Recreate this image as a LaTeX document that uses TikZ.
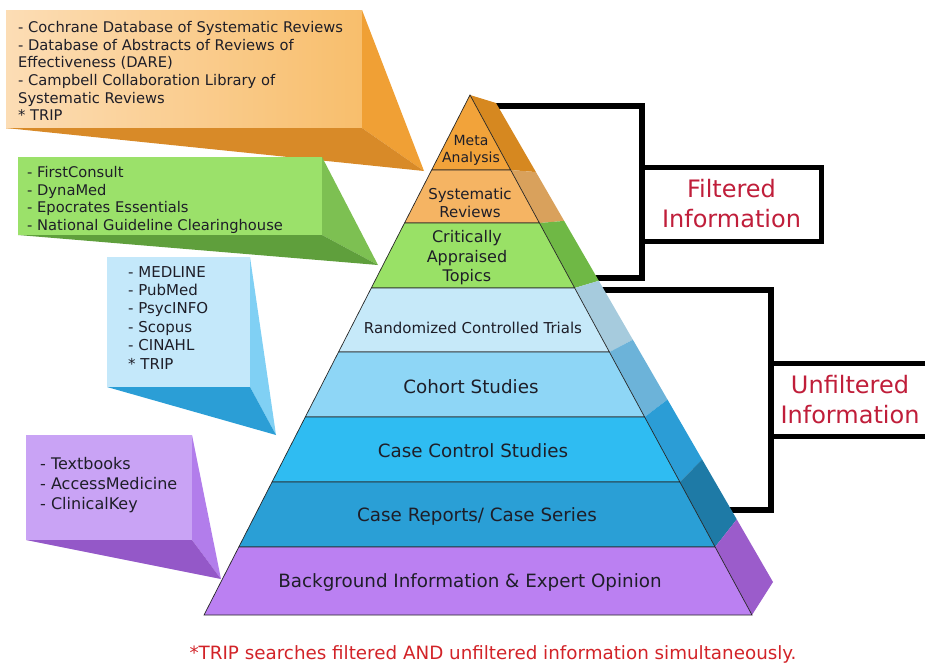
\documentclass[tikz,border=0pt]{standalone}
\usepackage{fontspec}
\setmainfont{DejaVu Sans}
\usepackage{tikz}
\usetikzlibrary{calc}
\usepackage{xcolor}
\definecolor{metaF}{RGB}{242,163,58}
\definecolor{metaS}{RGB}{214,136,32}
\definecolor{sysF}{RGB}{245,180,99}
\definecolor{sysS}{RGB}{217,161,92}
\definecolor{critF}{RGB}{153,225,102}
\definecolor{critS}{RGB}{111,184,69}
\definecolor{rctF}{RGB}{198,233,249}
\definecolor{rctS}{RGB}{166,203,221}
\definecolor{cohF}{RGB}{142,214,246}
\definecolor{cohS}{RGB}{108,179,217}
\definecolor{ccF}{RGB}{47,188,242}
\definecolor{ccS}{RGB}{43,157,214}
\definecolor{crF}{RGB}{42,159,214}
\definecolor{crS}{RGB}{30,122,166}
\definecolor{bgF}{RGB}{187,128,242}
\definecolor{bgS}{RGB}{155,92,203}
\definecolor{orangeL}{RGB}{252,221,181}
\definecolor{orangeR}{RGB}{248,190,108}
\definecolor{orangeSide}{RGB}{240,160,53}
\definecolor{orangeBot}{RGB}{216,138,40}
\definecolor{greenF}{RGB}{155,225,106}
\definecolor{greenSide}{RGB}{125,192,82}
\definecolor{greenBot}{RGB}{95,159,60}
\definecolor{blueF}{RGB}{196,232,250}
\definecolor{blueSide}{RGB}{128,208,244}
\definecolor{blueBot}{RGB}{43,158,214}
\definecolor{purpleF}{RGB}{201,163,245}
\definecolor{purpleSide}{RGB}{178,125,235}
\definecolor{purpleBot}{RGB}{148,88,200}
\definecolor{crimson}{RGB}{192,30,58}
\definecolor{footred}{RGB}{210,35,40}
\definecolor{ink}{RGB}{30,30,40}

\begin{document}
\begin{tikzpicture}[x=1pt,y=-1pt]
\tikzstyle{listbox} = [rectangle, inner sep=0, outer sep=0, anchor=north west];
\tikzstyle{listtext} = [inner sep=0, anchor=north west, align=left, text=ink];
\tikzstyle{lbl} = [inner sep=0, align=center, text=ink];
\tikzstyle{edge} = [draw=black!85, line width=0.7pt];
\tikzstyle{bracket} = [draw=black, line width=6pt];
\tikzstyle{infobox} = [draw=black, line width=5pt, fill=white, inner sep=0,
            outer sep=0, align=center, text=crimson,
            font=\fontsize{24}{30}\selectfont];

    \clip (0,0) rectangle (925,664);

    % brackets
    \coordinate (ftop) at (494,106);
    \coordinate (fbot) at (594,278);
    \coordinate (utop) at (600,290);
    \coordinate (ubot) at (728,510);
    \node (filt) at (731.5,204) [infobox, minimum width=179pt, minimum height=74pt]
        {Filtered\\Information};
    \node (unfilt) at (850,399.5) [infobox, minimum width=158pt, minimum height=73pt]
        {Unfiltered\\Information};
    \draw[bracket] (ftop) -| (filt.west) |- (fbot);
    \draw[bracket] (utop) -| (unfilt.west) |- (ubot);

    % pyramid
    \foreach \ya/\yb/\lay in {95/170/meta, 170/223/sys, 223/288/crit, 288/352/rct,
                              352/417/coh, 417/482/cc, 482/547/cr, 547/615/bg} {
        \pgfmathsetmacro{\xla}{470-0.5115*(\ya-95)}
        \pgfmathsetmacro{\xra}{470+0.5423*(\ya-95)}
        \pgfmathsetmacro{\xlb}{470-0.5115*(\yb-95)}
        \pgfmathsetmacro{\xrb}{470+0.5423*(\yb-95)}
        \pgfmathsetmacro{\ta}{(\ya-95)/520}
        \pgfmathsetmacro{\tb}{(\yb-95)/520}
        \fill[fill=\lay S] (\xra,\ya) -- ++({26-5*\ta},{8-41*\ta})
            -- ({\xrb+26-5*\tb},{\yb+8-41*\tb}) -- (\xrb,\yb) -- cycle;
        \draw[edge, fill=\lay F] (\xla,\ya) -- (\xra,\ya) -- (\xrb,\yb) -- (\xlb,\yb) -- cycle;
    }

    \node (meta) at (471,150) [lbl, font=\fontsize{14}{17}\selectfont] {Meta\\Analysis};
    \node (sys) at (470,203) [lbl, font=\fontsize{15}{18}\selectfont] {Systematic\\Reviews};
    \node (crit) at (467,258) [lbl, font=\fontsize{16}{19.5}\selectfont] {Critically\\Appraised\\Topics};
    \node (rct) at (473,333.4) [lbl, anchor=base, font=\fontsize{15}{18}\selectfont] {Randomized Controlled Trials};
    \node (coh) at (471,393.5) [lbl, anchor=base, font=\fontsize{18.3}{22}\selectfont] {Cohort Studies};
    \node (cc) at (473,457.5) [lbl, anchor=base, font=\fontsize{18.3}{22}\selectfont] {Case Control Studies};
    \node (cr) at (477,521.5) [lbl, anchor=base, font=\fontsize{18.3}{22}\selectfont] {Case Reports/ Case Series};
    \node (bg) at (470,587.5) [lbl, anchor=base, font=\fontsize{18.3}{22}\selectfont] {Background Information \& Expert Opinion};

    % resource callouts
    \coordinate (orangeTip) at (424,171);
    \node (orangeBox) at (6,10) [listbox, left color=orangeL, right color=orangeR,
        minimum width=356pt, minimum height=118pt] {};
    \fill[orangeSide] (orangeBox.north east) -- (orangeTip) -- (orangeBox.south east) -- cycle;
    \fill[orangeBot] (orangeBox.south west) -- (orangeBox.south east) -- (orangeTip) -- cycle;
    \node (orangeList) at ($(orangeBox.north west)+(12,11)$) [listtext,
        font=\fontsize{14.7}{17.7}\selectfont]
        {- Cochrane Database of Systematic Reviews\\
         - Database of Abstracts of Reviews of\\
         Effectiveness (DARE)\\
         - Campbell Collaboration Library of\\
         Systematic Reviews\\
         * TRIP};

    \coordinate (greenTip) at (378,265);
    \node (greenBox) at (18,157) [listbox, fill=greenF,
        minimum width=304pt, minimum height=78pt] {};
    \fill[greenSide] (greenBox.north east) -- (greenTip) -- (greenBox.south east) -- cycle;
    \fill[greenBot] (greenBox.south west) -- (greenBox.south east) -- (greenTip) -- cycle;
    \node (greenList) at ($(greenBox.north west)+(9,9)$) [listtext,
        font=\fontsize{14.7}{17.7}\selectfont]
        {- FirstConsult\\
         - DynaMed\\
         - Epocrates Essentials\\
         - National Guideline Clearinghouse};

    \coordinate (blueTip) at (276,435);
    \node (blueBox) at (107,257) [listbox, fill=blueF,
        minimum width=143pt, minimum height=130pt] {};
    \fill[blueSide] (blueBox.north east) -- (blueTip) -- (blueBox.south east) -- cycle;
    \fill[blueBot] (blueBox.south west) -- (blueBox.south east) -- (blueTip) -- cycle;
    \node (blueList) at ($(blueBox.north west)+(21,9)$) [listtext,
        font=\fontsize{15}{18.4}\selectfont]
        {- MEDLINE\\
         - PubMed\\
         - PsycINFO\\
         - Scopus\\
         - CINAHL\\
         * TRIP};

    \coordinate (purpleTip) at (221,579);
    \node (purpleBox) at (26,435) [listbox, fill=purpleF,
        minimum width=166pt, minimum height=105pt] {};
    \fill[purpleSide] (purpleBox.north east) -- (purpleTip) -- (purpleBox.south east) -- cycle;
    \fill[purpleBot] (purpleBox.south west) -- (purpleBox.south east) -- (purpleTip) -- cycle;
    \node (purpleList) at ($(purpleBox.north west)+(14,22)$) [listtext,
        font=\fontsize{16}{20}\selectfont]
        {- Textbooks\\
         - AccessMedicine\\
         - ClinicalKey};

    \node (note) at (493,659) [anchor=base, inner sep=0, text=footred,
        font=\fontsize{18.3}{22}\selectfont]
        {*TRIP searches filtered AND unfiltered information simultaneously.};

\end{tikzpicture}
\end{document}
